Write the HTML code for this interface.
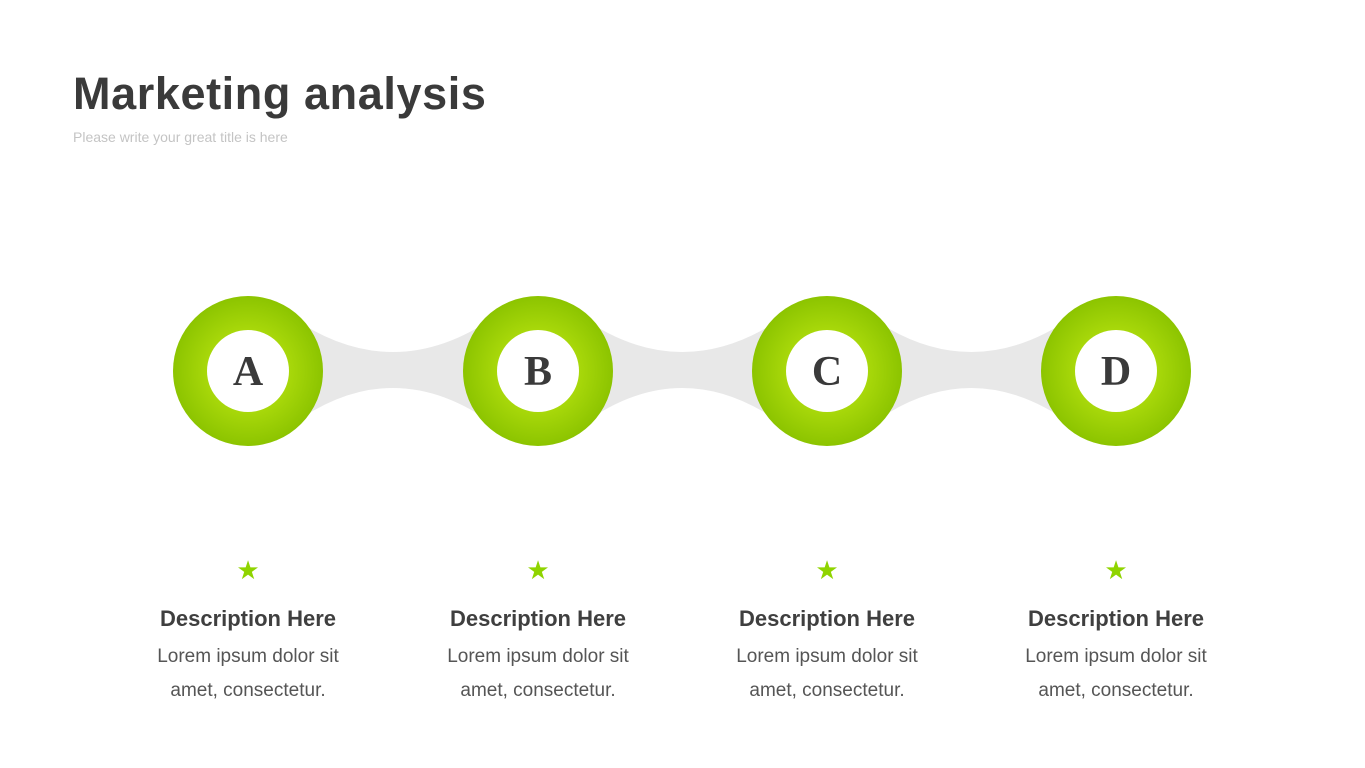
<!DOCTYPE html>
<html><head><meta charset="utf-8"><style>
html,body{margin:0;padding:0;background:#fff;}
body{width:1365px;height:768px;position:relative;overflow:hidden;font-family:"Liberation Sans",sans-serif;}
.t{position:absolute;left:73px;top:68px;font-size:45px;font-weight:bold;color:#3a3a3a;letter-spacing:0.6px;}
.s{position:absolute;left:73px;top:129px;font-size:14px;color:#c4c4c4;}
.d{position:absolute;width:260px;text-align:center;color:#3f3f3f;}
.d h3{margin:0;font-size:22px;font-weight:bold;position:absolute;top:606px;width:260px;}
.d p{margin:0;font-size:19px;color:#555;line-height:34px;position:absolute;top:640px;width:260px;}
</style></head><body>
<div class="t">Marketing analysis</div>
<div class="s">Please write your great title is here</div>
<svg width="1365" height="768" style="position:absolute;left:0;top:0">
<defs>
<radialGradient id="g" cx="50%" cy="50%" r="50%">
<stop offset="55%" stop-color="#a8d80a"/>
<stop offset="100%" stop-color="#8cc400"/>
</radialGradient>
</defs>
<g fill="#e8e8e8">
<path d="M290,316 Q393,388 496,316 L496,426 Q393,350 290,426 Z"/>
<path d="M580,316 Q682,388 785,316 L785,426 Q682,350 580,426 Z"/>
<path d="M869,316 Q971,388 1074,316 L1074,426 Q971,350 869,426 Z"/>
</g>
<g>
<circle cx="248" cy="371" r="75" fill="url(#g)"/><circle cx="248" cy="371" r="41" fill="#fff"/>
<circle cx="538" cy="371" r="75" fill="url(#g)"/><circle cx="538" cy="371" r="41" fill="#fff"/>
<circle cx="827" cy="371" r="75" fill="url(#g)"/><circle cx="827" cy="371" r="41" fill="#fff"/>
<circle cx="1116" cy="371" r="75" fill="url(#g)"/><circle cx="1116" cy="371" r="41" fill="#fff"/>
</g>
<g font-family="Liberation Serif,serif" font-weight="bold" font-size="42" fill="#3a3a3a" text-anchor="middle">
<text x="248" y="385">A</text><text x="538" y="385">B</text><text x="827" y="385">C</text><text x="1116" y="385">D</text>
</g>
<g fill="#8fd400" font-size="26" text-anchor="middle" font-family="DejaVu Sans,sans-serif">
<text x="248" y="579">★</text><text x="538" y="579">★</text><text x="827" y="579">★</text><text x="1116" y="579">★</text>
</g>
</svg>
<div class="d" style="left:118px;top:0"><h3>Description Here</h3><p>Lorem ipsum dolor sit<br>amet, consectetur.</p></div>
<div class="d" style="left:408px;top:0"><h3>Description Here</h3><p>Lorem ipsum dolor sit<br>amet, consectetur.</p></div>
<div class="d" style="left:697px;top:0"><h3>Description Here</h3><p>Lorem ipsum dolor sit<br>amet, consectetur.</p></div>
<div class="d" style="left:986px;top:0"><h3>Description Here</h3><p>Lorem ipsum dolor sit<br>amet, consectetur.</p></div>
</body></html>
